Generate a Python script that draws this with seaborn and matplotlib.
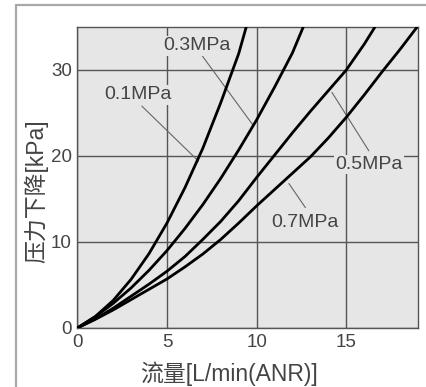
import pandas as pd
import seaborn as sns
import matplotlib
import matplotlib.pyplot as plt
from matplotlib.patches import Rectangle

# flow [L/min(ANR)] vs pressure drop [kPa]
p01_flow = [0, 1, 2, 3, 4, 5, 6, 7, 8, 9, 9.42]
p01_drop = [0, 1.33, 3.2, 5.66, 8.65, 12.2, 16.3, 20.9, 26.2, 31.9, 35]

p03_flow = [0, 1, 2, 3, 4, 5, 6, 7, 8, 9, 10, 11, 12, 12.6]
p03_drop = [0, 1.31, 2.86, 4.66, 6.71, 9.0, 11.56, 14.35, 17.4, 20.7, 24.2, 28.0, 32.0, 35]

p05_flow = [0, 1, 2, 3, 4, 5, 6, 7, 8, 9, 10, 11, 12, 13, 14, 15, 16, 16.6]
p05_drop = [0, 1.05, 2.3, 3.7, 5.1, 6.6, 8.3, 10.3, 12.4, 14.8, 17.5, 20.1, 22.7, 25.2, 27.6, 30.0, 33.0, 35]

p07_flow = [0, 1, 2, 3, 4, 5, 6, 7, 8, 9, 10, 11, 12, 13, 14, 15, 16, 17, 18, 18.95]
p07_drop = [0, 1.0, 2.1, 3.3, 4.5, 5.7, 7.1, 8.6, 10.3, 12.2, 14.2, 16.1, 18.0, 19.9, 22.1, 24.5, 27.1, 29.8, 32.4, 35]

labels = ["0.1MPa", "0.3MPa", "0.5MPa", "0.7MPa"]
# label text position, leader start (at text), leader end (on curve)
label_text = [(3.4, 27.1), (6.67, 32.8), (16.26, 19.0), (12.72, 12.3)]
leader_from = [(3.6, 25.8), (6.95, 31.7), (16.26, 20.6), (12.72, 14.0)]
leader_to = [(6.76, 19.4), (9.83, 23.5), (14.2, 27.4), (11.8, 16.8)]

xticks = [0, 5, 10, 15]
yticks = [0, 10, 20, 30]

frames = []
for name, fl, dr in [(labels[0], p01_flow, p01_drop), (labels[1], p03_flow, p03_drop),
                     (labels[2], p05_flow, p05_drop), (labels[3], p07_flow, p07_drop)]:
    frames.append(pd.DataFrame({"flow": fl, "drop": dr, "pressure": name}))
data = pd.concat(frames, ignore_index=True)

sns.set_style("white")
plt.rcParams["font.family"] = ["Liberation Sans", "Noto Sans CJK SC", "DejaVu Sans"]

fig = plt.figure(figsize=(4.27, 3.87), dpi=100)
ax = fig.add_axes([77.3 / 427, 59 / 387, 340.7 / 427, 301 / 387])
ax.set_facecolor("#e6e6e6")

# outer frame of the picture
fig.patches.append(Rectangle((16 / 427, -0.05), 1.0, (382 / 387) + 0.05,
                             transform=fig.transFigure, fill=False,
                             edgecolor="#a8a8a8", linewidth=1.6, zorder=0))

sns.lineplot(x="flow", y="drop", data=data, hue="pressure",
             palette=["black"] * 4, estimator=None, sort=False,
             linewidth=2.0, legend=False, ax=ax, zorder=3)

for (tx, ty), (fx, fy), (ex, ey), lab in zip(label_text, leader_from, leader_to, labels):
    ax.plot([fx, ex], [fy, ey], color="#666666", linewidth=0.8, zorder=2)
    ax.text(tx, ty, lab, ha="center", va="center", fontsize=14, color="#444444",
            zorder=4,
            bbox=dict(boxstyle="square,pad=0.06", facecolor="#e6e6e6", edgecolor="none"))

ax.set_xlim(0, 19)
ax.set_ylim(0, 35)
ax.set_xticks(xticks)
ax.set_yticks(yticks)
ax.grid(True, color="#555555", linewidth=1.0)
ax.set_axisbelow(True)
ax.tick_params(length=0, labelsize=13.5, labelcolor="#444444", pad=4)
for s in ax.spines.values():
    s.set_color("#555555")
    s.set_linewidth(1.0)

ax.set_xlabel("流量[L/min(ANR)]", fontsize=16.5, color="#444444", va="center")
ax.set_ylabel("压力下降[kPa]", fontsize=16.5, color="#444444", va="center")
ax.xaxis.set_label_coords(0.445, -0.153)
ax.yaxis.set_label_coords(-0.121, 0.455)

plt.savefig("out.png", dpi=100)
